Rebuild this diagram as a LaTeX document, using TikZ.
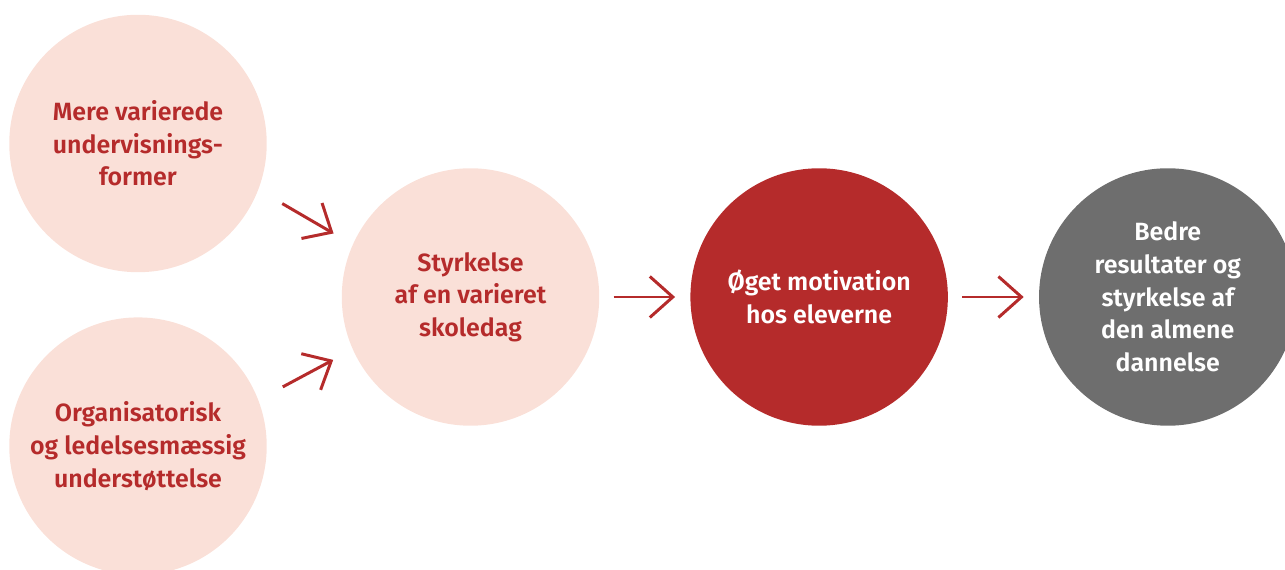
\documentclass[tikz,border=0pt]{standalone}
\usepackage{fontspec}
\setmainfont{Fira Sans}[BoldFont={Fira Sans SemiBold}]
\usetikzlibrary{positioning, arrows.meta}

\definecolor{dkred}{HTML}{B52B2B}
\definecolor{lightpink}{HTML}{FAE0D8}
\definecolor{midgrey}{HTML}{6E6E6E}

\begin{document}
\begin{tikzpicture}[ x = 0.02cm, y = -0.02cm
                   , node distance = 0.89cm and 1.81cm
                   , font = \fontsize{14.2}{18.6}\selectfont\bfseries
                   , >={Straight Barb[length=0.46cm, width=0.82cm]}
                   , every node/.style = { circle
                                       , align = center
                                       , inner sep = 0pt
                                       , minimum size = 5.15cm }
                   , soft/.style = { fill = lightpink, text = dkred }
                   , arrow/.style = { ->, draw = dkred, line width = 1.7pt }
                   ]

  \clip (0,0) rectangle (1285,570);

  \node (varied) [soft] at (138,143.5) {Mere varierede\\ undervisnings-\\ former};
  \node (support) [soft, below = of varied] {Organisatorisk\\ og ledelsesmæssig\\ understøttelse};
  \node (schoolday) [soft] at (470.5,297) {Styrkelse\\ af en varieret\\ skoledag};
  \node (motivation) [right = of schoolday, fill = dkred, text = white] {Øget motivation\\ hos eleverne};
  \node (results) [right = of motivation, fill = midgrey, text = white] {Bedre\\ resultater og\\ styrkelse af\\ den almene\\ dannelse};

  \draw[arrow, shorten <= 0.55cm, shorten >= 0.44cm] (varied.-21) -- (schoolday.156);
  \draw[arrow, shorten <= 0.55cm, shorten >= 0.44cm] (support.21) -- (schoolday.-156);
  \draw[arrow, shorten <= 0.28cm, shorten >= 0.3cm] (schoolday) -- (motivation);
  \draw[arrow, shorten <= 0.28cm, shorten >= 0.3cm] (motivation) -- (results);

\end{tikzpicture}
\end{document}
